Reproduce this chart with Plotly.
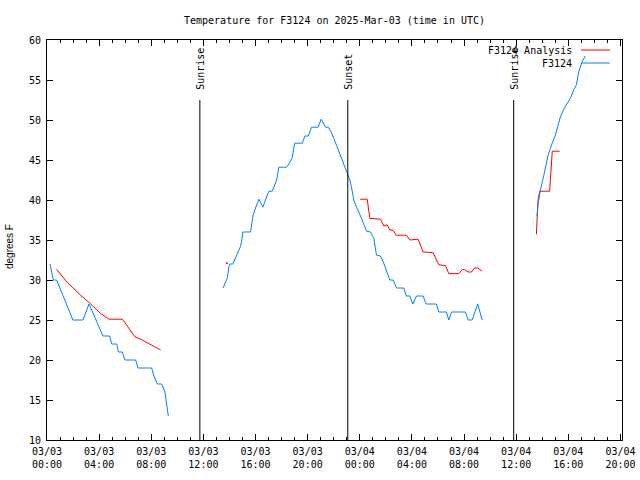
import plotly.graph_objects as go
from datetime import datetime, timedelta

BASE = datetime(2025, 3, 3, 0, 0)

# Observations (hours since 2025-03-03 00:00 UTC, deg F)
obs1_hours = [0.23, 0.36, 0.49, 0.74, 1.0, 1.25, 1.5, 1.75, 1.99, 2.76, 3.0, 3.22, 3.5, 3.75, 4.0, 4.29,
              4.81, 4.96, 5.35, 5.48, 5.78, 5.98, 6.80, 6.98, 8.03, 8.2, 8.47, 8.80, 9.05, 9.16, 9.31]
obs1_temps = [32, 31, 30, 30, 29, 28, 27, 26, 25, 25, 26, 27, 26, 25, 24, 23,
              23, 22, 22, 21, 21, 20, 20, 19, 19, 18, 17, 17, 16, 14.6, 13]

obs2_hours = [13.50, 13.65, 13.83, 13.96, 14.03, 14.26, 14.55, 14.85, 14.95, 15.03, 15.62, 15.70, 15.80, 16.0,
              16.26, 16.56, 16.8, 17.02, 17.29, 17.45, 17.62, 17.79, 18.38, 18.6, 18.82, 19.00, 19.59, 19.79,
              20.05, 20.30, 20.81, 21.04, 21.37, 21.58, 21.8, 22.01, 22.2, 22.39, 22.6, 22.8, 23.04, 23.24,
              23.4, 23.54, 23.73, 23.93, 24.19, 24.35, 24.52, 24.82, 25.08, 25.28, 25.59, 25.84, 26.05, 26.30,
              26.56, 26.82, 27.38, 27.56, 27.84, 28.07, 28.35, 28.86, 29.09, 29.88, 30.06, 30.65, 30.83, 31.04,
              32.11, 32.32, 32.62, 32.85, 33.05, 33.39]
obs2_temps = [29, 29.6, 30.2, 31.7, 32, 32, 33, 34.2, 35, 36, 36, 37, 38, 39,
              40.1, 39.1, 40.2, 41.1, 41.1, 41.7, 42.5, 44.1, 44.1, 44.6, 45.3, 47.1, 47.1, 48.0,
              48.0, 49.1, 49.1, 50.1, 49.1, 49.1, 48.5, 47.7, 46.9, 46.0, 45.2, 44.3, 43.3, 42.5,
              41.3, 40, 39.2, 38.5, 37.5, 36.8, 36.1, 36.0, 35.2, 33.1, 33, 32.1, 31, 30,
              30, 29, 29, 28, 28, 27, 28, 28, 27, 27, 26, 26, 25, 26,
              26, 25, 25, 26, 27, 25]

obs3_hours = [37.55, 37.61, 37.65, 37.86, 38.07, 38.24, 38.45, 38.76, 39.01, 39.19, 39.39, 39.70, 39.98,
              40.16, 40.41, 40.62, 40.80, 41.06, 41.31]
obs3_temps = [38.1, 38.1, 39.2, 41.25, 42.7, 44.2, 45.6, 47.1, 48.1, 49.2, 50.4, 51.5, 52.3,
              52.7, 53.75, 54.4, 56.0, 57.3, 58.0]

# Analysis
ana1_hours = [0.74, 1.56, 2.58, 3.22, 4.12, 4.75, 5.78, 6.17, 6.75, 7.19, 7.95, 8.72]
ana1_temps = [31.33, 29.7, 28.1, 27.2, 25.8, 25.1, 25.1, 24.2, 22.9, 22.6, 21.9, 21.25]

ana_single_hours = [13.80]
ana_single_temps = [32.1]

ana2_hours = [24.03, 24.57, 24.77, 25.59, 25.84, 26.10, 26.30, 26.56, 26.79, 27.58, 27.84, 28.48, 28.86,
              29.63, 30.06, 30.58, 30.83, 31.60, 31.86, 32.03, 32.32, 32.57, 32.80, 33.05, 33.39]
ana2_temps = [40.1, 40.1, 37.7, 37.6, 36.75, 36.9, 36.25, 36.2, 35.6, 35.6, 35, 35.1, 33.5,
              33.4, 31.9, 31.8, 30.8, 30.8, 31.3, 31.3, 31, 31, 31.5, 31.5, 31.1]

ana3_hours = [37.55, 37.61, 37.68, 37.81, 38.57, 38.67, 38.77, 39.34]
ana3_temps = [35.7, 38.1, 40.0, 41.1, 41.1, 43.6, 46.1, 46.1]

sun_hours = [11.73, 23.08, 35.81]
sun_labels = ["Sunrise", "Sunset", "Sunrise"]

x_range_hours = [0, 44.12]
y_ticks = [10, 15, 20, 25, 30, 35, 40, 45, 50, 55, 60]

RED = "#ff0000"
BLUE = "#0080ff"
MONO = "DejaVu Sans Mono"


def t(h):
    return (BASE + timedelta(hours=h)).strftime("%Y-%m-%d %H:%M:%S")


def join(segs):
    xs, ys = [], []
    for hs, vs in segs:
        if xs:
            xs.append(None)
            ys.append(None)
        xs += [t(h) for h in hs]
        ys += list(vs)
    return xs, ys


ax, ay = join([(ana1_hours, ana1_temps), (ana2_hours, ana2_temps), (ana3_hours, ana3_temps)])
ox, oy = join([(obs1_hours, obs1_temps), (obs2_hours, obs2_temps), (obs3_hours, obs3_temps)])

fig = go.Figure()
fig.add_trace(go.Scatter(x=ax, y=ay, mode="lines", line=dict(color=RED, width=1),
                         connectgaps=False, name="F3124 Analysis", showlegend=False))
fig.add_trace(go.Scatter(x=[t(h) for h in ana_single_hours], y=ana_single_temps, mode="markers",
                         marker=dict(color=RED, size=2), showlegend=False))
fig.add_trace(go.Scatter(x=ox, y=oy, mode="lines", line=dict(color=BLUE, width=1),
                         connectgaps=False, name="F3124", showlegend=False))

for h, lab in zip(sun_hours, sun_labels):
    fig.add_shape(type="line", xref="x", yref="paper", x0=t(h), x1=t(h), y0=0, y1=0.85,
                  line=dict(color="black", width=1))
    fig.add_annotation(x=t(h), y=0.87, xref="x", yref="paper", text=lab, textangle=-90,
                       showarrow=False, xanchor="center", yanchor="bottom",
                       font=dict(family=MONO, size=10, color="black"))

# manual gnuplot-style legend (text right, sample line after)
for i, (name, col) in enumerate([("F3124 Analysis", RED), ("F3124", BLUE)]):
    yy = 0.975 - i * 0.0325
    fig.add_annotation(x=0.9165, y=yy, xref="paper", yref="paper", text=name, showarrow=False,
                       xanchor="right", yanchor="middle", font=dict(family=MONO, size=10, color="black"))
    fig.add_shape(type="line", xref="paper", yref="paper", x0=0.9287, x1=0.979, y0=yy, y1=yy,
                  line=dict(color=col, width=1))

fig.add_annotation(x=-0.066, y=0.4825, xref="paper", yref="paper", text="degrees F", textangle=-90,
                   showarrow=False, xanchor="center", yanchor="middle",
                   font=dict(family="Liberation Sans", size=10, color="black"))

fig.update_layout(
    width=640, height=480,
    margin=dict(l=47, r=18, t=40, b=40),
    paper_bgcolor="white", plot_bgcolor="white",
    title=dict(text="Temperature for F3124 on 2025-Mar-03 (time in UTC)", x=0.5, xref="paper",
               xanchor="center", y=1 - 20 / 480, yanchor="middle",
               font=dict(family=MONO, size=10, color="black")),
    xaxis=dict(type="date", range=[t(x_range_hours[0]), t(x_range_hours[1])], automargin=False,
               tick0=t(0), dtick=4 * 3600 * 1000, tickformat="%m/%d<br>%H:%M",
               ticks="inside", ticklen=6, tickcolor="black", tickwidth=1, ticklabelstandoff=2,
               showline=True, linecolor="black", linewidth=1, mirror="ticks",
               showgrid=False, zeroline=False,
               minor=dict(dtick=3600 * 1000, ticks="inside", ticklen=3, tickcolor="black", showgrid=False),
               tickfont=dict(family=MONO, size=10, color="black")),
    yaxis=dict(range=[10, 60], tickvals=y_ticks, automargin=False, ticks="inside", ticklen=6,
               tickcolor="black", showline=True, linecolor="black", linewidth=1, mirror="ticks",
               showgrid=False, zeroline=False, ticklabelstandoff=3,
               tickfont=dict(family=MONO, size=10, color="black")),
)

fig.write_html("out.html", config={"displayModeBar": False},
               post_script="document.body.style.margin='0px';")
